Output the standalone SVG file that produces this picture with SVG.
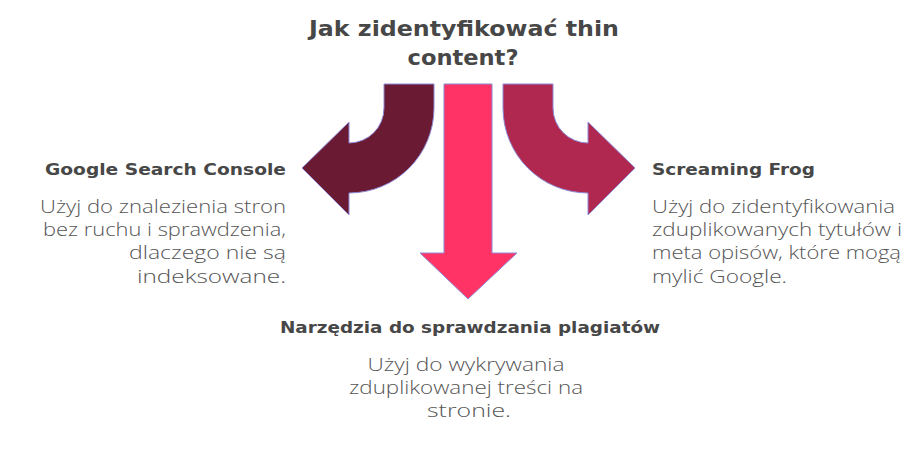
<svg xmlns="http://www.w3.org/2000/svg" width="913" height="469" viewBox="0 0 913 469">
  <style>
    .arrow { stroke: #8e8ad6; stroke-width: 1; stroke-linejoin: miter; }
    .title { font-family: "DejaVu Sans", "Open Sans", sans-serif; font-weight: 700; font-size: 21px; fill: #474747; }
    .head { font-family: "DejaVu Sans", "Open Sans", sans-serif; font-weight: 700; font-size: 16px; fill: #474747; }
    .body { font-family: "Open Sans", "Liberation Sans", sans-serif; font-weight: 300; font-size: 18.5px; fill: #555555; }
  </style>
  <rect width="913" height="469" fill="#ffffff"/>
  <g id="title">
    <text class="title" x="464" y="36" text-anchor="middle" textLength="310" lengthAdjust="spacingAndGlyphs">Jak zidentyfikować thin</text>
    <text class="title" x="463" y="65" text-anchor="middle" textLength="111" lengthAdjust="spacingAndGlyphs">content?</text>
  </g>
  <g id="connectors">
    <path id="arrow-left" class="arrow" fill="#6b1a34" d="M434,84 L434,108 A85,85 0 0 1 349,193 L349,215 L302,168 L349,122 L349,143 A35,35 0 0 0 384,108 L384,84 Z"/>
    <path id="arrow-center" class="arrow" fill="#ff3366" d="M444,84 L492,84 L492,253 L517,253 L468,299 L420,253 L444,253 Z"/>
    <path id="arrow-right" class="arrow" fill="#b0284f" d="M503,84 L503,108 A85,85 0 0 0 588,193 L588,215 L635,168 L588,122 L588,143 A35,35 0 0 1 553,108 L553,84 Z"/>
  </g>
  <g id="node-gsc">
    <text class="head" x="286" y="175" text-anchor="end" textLength="241" lengthAdjust="spacingAndGlyphs">Google Search Console</text>
    <text class="body" x="286" y="213" text-anchor="end" textLength="246" lengthAdjust="spacingAndGlyphs">Użyj do znalezienia stron</text>
    <text class="body" x="286" y="236" text-anchor="end" textLength="243" lengthAdjust="spacingAndGlyphs">bez ruchu i sprawdzenia,</text>
    <text class="body" x="286" y="259" text-anchor="end" textLength="157" lengthAdjust="spacingAndGlyphs">dlaczego nie są</text>
    <text class="body" x="286" y="283" text-anchor="end" textLength="149" lengthAdjust="spacingAndGlyphs">indeksowane.</text>
  </g>
  <g id="node-sf">
    <text class="head" x="652" y="175" textLength="163" lengthAdjust="spacingAndGlyphs">Screaming Frog</text>
    <text class="body" x="652" y="213" textLength="243" lengthAdjust="spacingAndGlyphs">Użyj do zidentyfikowania</text>
    <text class="body" x="652" y="236" textLength="250" lengthAdjust="spacingAndGlyphs">zduplikowanych tytułów i</text>
    <text class="body" x="652" y="259" textLength="249" lengthAdjust="spacingAndGlyphs">meta opisów, które mogą</text>
    <text class="body" x="652" y="283" textLength="135" lengthAdjust="spacingAndGlyphs">mylić Google.</text>
  </g>
  <g id="node-plag">
    <text class="head" x="470" y="333" text-anchor="middle" textLength="380" lengthAdjust="spacingAndGlyphs">Narzędzia do sprawdzania plagiatów</text>
    <text class="body" x="466" y="371" text-anchor="middle" textLength="197" lengthAdjust="spacingAndGlyphs">Użyj do wykrywania</text>
    <text class="body" x="466" y="394" text-anchor="middle" textLength="234" lengthAdjust="spacingAndGlyphs">zduplikowanej treści na</text>
    <text class="body" x="469" y="417" text-anchor="middle" textLength="84" lengthAdjust="spacingAndGlyphs">stronie.</text>
  </g>
</svg>
